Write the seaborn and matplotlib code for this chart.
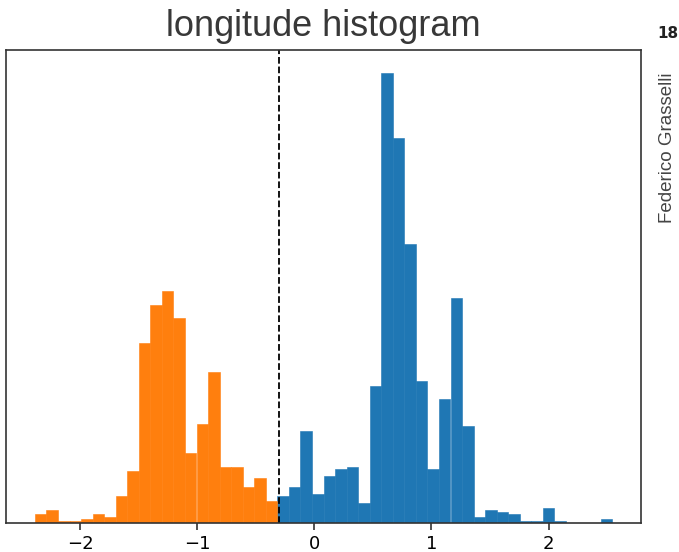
import numpy as np
import pandas as pd
import matplotlib
matplotlib.use("Agg")
import matplotlib.pyplot as plt
import seaborn as sns

# ---- data ----
BIN_LO = -2.385
BIN_HI = 2.542
N_BINS = 50
THRESHOLD = -0.30

counts = [
    4, 6, 1, 1, 2, 4, 3, 12, 23, 80, 97, 103, 91, 31, 44, 67, 25, 25, 16, 20, 10,
    12, 16, 41, 13, 21, 24, 25, 9, 61, 200, 171, 124, 63, 24, 55, 100, 43,
    3, 6, 5, 4, 1, 1, 7, 1, 0, 0, 0, 2,
]
tick_values = [-2, -1, 0, 1, 2]
tick_labels = ["\u22122", "\u22121", "0", "1", "2"]
title_text = "longitude histogram"
author_text = "Federico Grasselli"
page_text = "18"

# ---- build table ----
edges = np.linspace(BIN_LO, BIN_HI, N_BINS + 1)
centers = (edges[:-1] + edges[1:]) / 2
df = pd.DataFrame({
    "longitude": centers,
    "count": counts,
    "side": np.where(centers < THRESHOLD, "west", "east"),
})

sns.set_style("ticks")
plt.rcParams["font.family"] = ["DejaVu Sans"]

fig = plt.figure(figsize=(6.79, 5.52), dpi=100)
ax = fig.add_axes([6 / 679, 1 - 523.3 / 552, (641 - 6) / 679, (523.3 - 50) / 552])

sns.histplot(
    data=df, x="longitude", weights="count", bins=N_BINS,
    binrange=(BIN_LO, BIN_HI), hue="side",
    hue_order=["west", "east"], palette={"west": "#ff7f0e", "east": "#1f77b4"},
    alpha=1, linewidth=0, legend=False, ax=ax,
)
for p in ax.patches:
    p.set_edgecolor(p.get_facecolor())
    p.set_linewidth(0.4)

ax.axvline(THRESHOLD, color="black", linestyle="--", linewidth=1.3)

ax.set_xticks(tick_values)
ax.set_xticklabels(tick_labels, fontsize=13)
ax.set_yticks([])
ax.set_xlabel("")
ax.set_ylabel("")
for s in ax.spines.values():
    s.set_visible(True)
    s.set_color("#333333")
    s.set_linewidth(1.2)
ax.tick_params(axis="x", colors="#333333", labelcolor="black", length=5, width=1.2)

ax.set_title(title_text, fontsize=26, color="#383838",
             family=["Liberation Sans", "DejaVu Sans"], pad=10)

fig.text(667 / 679, 1 - 148 / 552, author_text, rotation=90, fontsize=13.5,
         color="#444444", family=["Liberation Sans", "DejaVu Sans"],
         ha="center", va="center")
fig.text(668 / 679, 1 - 34 / 552, page_text, fontsize=11, fontweight="heavy",
         color="#222222", ha="center", va="center")

fig.savefig("out.png", dpi=100)
